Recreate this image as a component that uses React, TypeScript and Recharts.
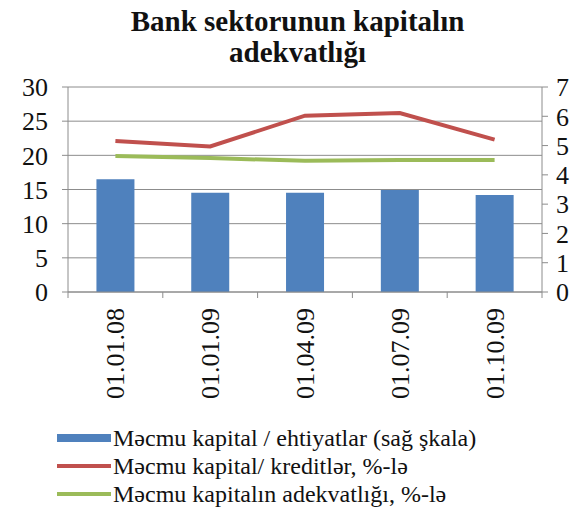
import React from "react";
import { ComposedChart, Bar, Line, XAxis, YAxis, CartesianGrid } from "recharts";

const categories = ["01.01.08", "01.01.09", "01.04.09", "01.07.09", "01.10.09"];
const capitalReserves = [3.85, 3.39, 3.39, 3.48, 3.31];
const capitalLoans = [22.1, 21.3, 25.8, 26.2, 22.3];
const capitalAdequacy = [19.9, 19.6, 19.2, 19.3, 19.3];
const leftTicks = [0, 5, 10, 15, 20, 25, 30];
const rightTicks = [0, 1, 2, 3, 4, 5, 6, 7];

const seriesNames = [
  "Məcmu kapital / ehtiyatlar (sağ şkala)",
  "Məcmu kapital/ kreditlər, %-lə",
  "Məcmu kapitalın adekvatlığı, %-lə",
];

const data = categories.map((c, i) => ({
  cat: c,
  reserves: capitalReserves[i],
  loans: capitalLoans[i],
  adequacy: capitalAdequacy[i],
}));

const W = 587;
const H = 515;
const LEFT_W = 68;
const RIGHT_W = 45;
const BAND = (W - LEFT_W - RIGHT_W) / categories.length;
const AXIS_COLOR = "#8c8c8c";

const BLUE = "#4F81BD";
const RED = "#C0504D";
const GREEN = "#9BBB59";

const CSS = `
html body #root, html body #root *, html body #root svg text, html body #root .recharts-text {
  font-family: "Liberation Serif", "Times New Roman", serif !important;
}
`;

const XTick = (props: any) => {
  const { x, y, payload, index } = props;
  return (
    <g>
      <line x1={x - BAND / 2} x2={x - BAND / 2} y1={y - 8} y2={y - 2} stroke={AXIS_COLOR} strokeWidth={1} />
      {index === categories.length - 1 && (
        <line x1={x + BAND / 2} x2={x + BAND / 2} y1={y - 8} y2={y - 2} stroke={AXIS_COLOR} strokeWidth={1} />
      )}
      <text
        x={x}
        y={y + 8}
        transform={`rotate(-90, ${x}, ${y + 8})`}
        textAnchor="end"
        dy="0.35em"
        fontFamily="Liberation Serif"
        fontSize={26}
        fill="#111"
      >
        {payload.value}
      </text>
    </g>
  );
};

export default function App() {
  const colors = [BLUE, RED, GREEN];
  return (
    <div style={{ marginLeft: -8, marginTop: -8, width: W, height: H, position: "relative" }}>
      <style>{CSS}</style>
      <div
        style={{
          fontFamily: "Liberation Serif",
          position: "absolute",
          left: 8,
          top: 6,
          width: W - 8,
          textAlign: "center",
          fontWeight: 700,
          fontSize: 29,
          lineHeight: "31px",
          color: "#111",
        }}
      >
        Bank sektorunun kapitalın
        <br />
        adekvatlığı
      </div>
      <ComposedChart
        width={W}
        height={H}
        data={data}
        margin={{ top: 87, right: 0, bottom: 93, left: 0 }}
        barCategoryGap="30%"
      >
        <CartesianGrid yAxisId="left" vertical={false} stroke={AXIS_COLOR} strokeWidth={1} />
        <XAxis
          dataKey="cat"
          height={130}
          tick={<XTick />}
          tickLine={false}
          axisLine={{ stroke: AXIS_COLOR }}
          interval={0}
        />
        <YAxis
          yAxisId="left"
          orientation="left"
          width={LEFT_W}
          domain={[0, 30]}
          ticks={leftTicks}
          interval={0}
          tickSize={6}
          tickMargin={14}
          tickLine={{ stroke: AXIS_COLOR }}
          axisLine={{ stroke: AXIS_COLOR }}
          tick={{ fontFamily: "Liberation Serif", fontSize: 26, fill: "#111" }}
        />
        <YAxis
          yAxisId="right"
          orientation="right"
          width={RIGHT_W}
          domain={[0, 7]}
          ticks={rightTicks}
          interval={0}
          tickSize={6}
          tickMargin={8}
          tickLine={{ stroke: AXIS_COLOR }}
          axisLine={{ stroke: AXIS_COLOR }}
          tick={{ fontFamily: "Liberation Serif", fontSize: 26, fill: "#111" }}
        />
        <Bar yAxisId="right" dataKey="reserves" name={seriesNames[0]} fill={BLUE} isAnimationActive={false} />
        <Line
          yAxisId="left"
          dataKey="loans"
          name={seriesNames[1]}
          stroke={RED}
          strokeWidth={4}
          dot={false}
          type="linear"
          isAnimationActive={false}
        />
        <Line
          yAxisId="left"
          dataKey="adequacy"
          name={seriesNames[2]}
          stroke={GREEN}
          strokeWidth={4}
          dot={false}
          type="linear"
          isAnimationActive={false}
        />
      </ComposedChart>
      <div style={{ position: "absolute", left: 57, top: 424 }}>
        {seriesNames.map((n, i) => (
          <div key={n} style={{ display: "flex", alignItems: "center", height: 28, whiteSpace: "nowrap" }}>
            <span
              style={{
                display: "inline-block",
                width: 54,
                height: i === 0 ? 8 : 4,
                background: colors[i],
                marginRight: 2,
              }}
            />
            <span style={{ fontFamily: "Liberation Serif", fontSize: 24, color: "#111" }}>{n}</span>
          </div>
        ))}
      </div>
    </div>
  );
}
